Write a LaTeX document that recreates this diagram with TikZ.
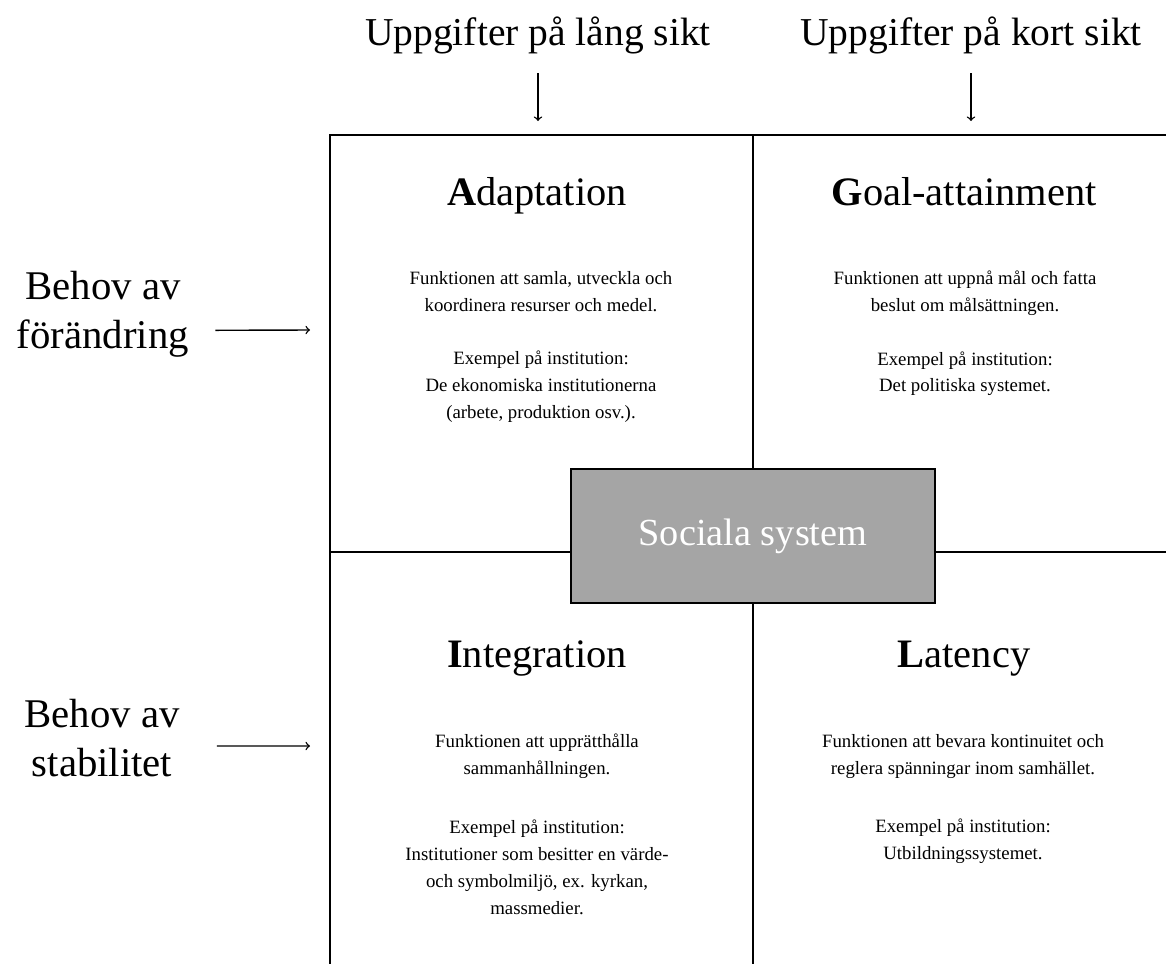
\documentclass[tikz,border=0pt]{standalone}
\usepackage{fontspec}
\setmainfont{Liberation Serif}
\definecolor{sysgray}{RGB}{165,165,165}
\begin{document}
\begin{tikzpicture}
  [x=0.02cm,y=-0.02cm,
   hdrnode/.style={inner sep=0pt,anchor=base,font=\fontsize{22.5}{27}\selectfont},
   sidenode/.style={inner sep=0pt,anchor=north,align=center,font=\fontsize{23.2}{28}\selectfont},
   titlenode/.style={inner sep=0pt,anchor=base,font=\fontsize{23}{27}\selectfont},
   bodynode/.style={inner sep=0pt,anchor=north,align=center,font=\fontsize{10.7}{15.3}\selectfont},
   sysnode/.style={draw,fill=sysgray,line width=1pt,minimum width=7.28cm,minimum height=2.68cm,
     text=white,font=\fontsize{21.8}{26}\selectfont},
   quad/.style={line width=1.1pt},
   arr/.style={->,line width=0.8pt}]
  \useasboundingbox (0,0) rectangle (1166,964);
  \draw[quad] (1166,135) -- (330,135) -- (330,964);
  \draw[quad] (753,135) -- (753,964);
  \draw[quad] (330,552) -- (1166,552);
  \node[sysnode] (sys) at (753,536) {Sociala system};
  \node[hdrnode] (hdrlong) at (538,45) {Uppgifter på lång sikt};
  \node[hdrnode] (hdrshort) at (971,45) {Uppgifter på kort sikt};
  \coordinate (toplong) at (538,121);
  \coordinate (topshort) at (971,121);
  \draw[arr] ([yshift=-11pt]hdrlong.south) -- (toplong);
  \draw[arr] ([yshift=-11pt]hdrshort.south) -- (topshort);
  \node[sidenode] (change) at (103,271) {Behov av\\förändring};
  \node[sidenode] (stable) at (102,699) {Behov av\\stabilitet};
  \coordinate (inchange) at (310,330);
  \coordinate (instable) at (310,746);
  \draw[arr] ([xshift=14.8pt,yshift=-9pt]change.east) -- (inchange);
  \draw[arr] ([xshift=21pt,yshift=-4.4pt]stable.east) -- (instable);
  \node[titlenode] (adapt) at (537,205) {\textbf{A}daptation};
  \node[titlenode] (goal) at (964,205) {\textbf{G}oal-attainment};
  \node[titlenode] (integ) at (537,667) {\textbf{I}ntegration};
  \node[titlenode] (laten) at (964,667) {\textbf{L}atency};
  \node[bodynode] (adaptbody) at (541,271) {Funktionen att samla, utveckla och\\koordinera resurser och medel.\\[15pt]
    Exempel på institution:\\De ekonomiska institutionerna\\(arbete, produktion osv.).};
  \node[bodynode] (goalbody) at (965,271) {Funktionen att uppnå mål och fatta\\beslut om målsättningen.\\[15pt]
    Exempel på institution:\\Det politiska systemet.};
  \node[bodynode] (integbody) at (537,734) {Funktionen att upprätthålla\\sammanhållningen.\\[18pt]
    Exempel på institution:\\Institutioner som besitter en värde-\\och symbolmiljö, ex. kyrkan,\\massmedier.};
  \node[bodynode] (latenbody) at (963,734) {Funktionen att bevara kontinuitet och\\reglera spänningar inom samhället.\\[18pt]
    Exempel på institution:\\Utbildningssystemet.};
\end{tikzpicture}
\end{document}
